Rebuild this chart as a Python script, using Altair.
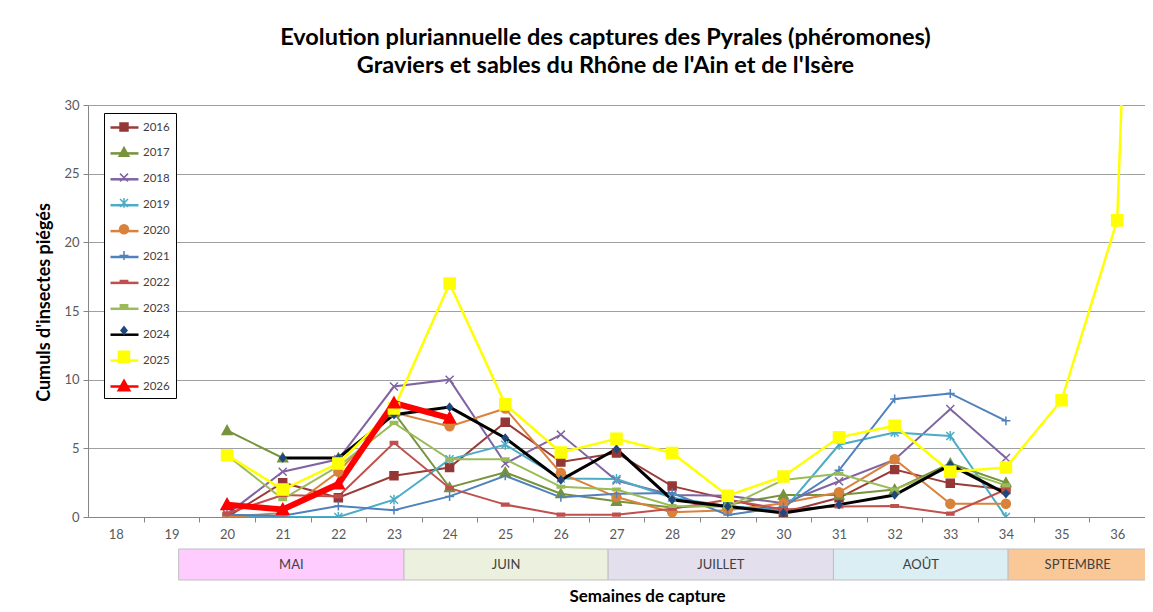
import altair as alt
import pandas as pd

# ---- data ----
weeks = list(range(20, 38))
years = ["2016", "2017", "2018", "2019", "2020", "2021", "2022", "2023", "2024", "2025", "2026"]
N = None
s2016 = [0.0, 2.5, 1.4, 3.0, 3.6, 6.9, 4.0, 4.66, 2.25, 1.3, 0.33, 1.4, 3.45, 2.45, 2.0]
s2017 = [6.3, 4.3, 4.3, 7.6, 2.15, 3.25, 1.7, 1.15, 0.7, 0.9, 1.6, 1.6, 2.0, 3.9, 2.5]
s2018 = [0.2, 3.3, 4.2, 9.5, 10.0, 3.9, 6.0, 2.66, 1.6, 1.55, 1.0, 2.6, 4.17, 7.86, 4.3]
s2019 = [0.1, 0.0, 0.0, 1.26, 4.2, 5.26, 2.8, 2.77, 1.4, 0.8, 0.5, 5.26, 6.16, 5.9, 0.0]
s2020 = [0.0, 0.3, 3.3, 7.6, 6.6, 7.9, 3.2, 1.45, 0.34, 0.5, 1.0, 1.8, 4.2, 0.97, 0.97]
s2021 = [0.17, 0.1, 0.8, 0.5, 1.5, 3.0, 1.43, 1.7, 1.75, 0.15, 0.73, 3.4, 8.6, 9.0, 7.0]
s2022 = [0.25, 1.6, 1.5, 5.4, 2.1, 0.9, 0.17, 0.17, 0.6, 1.26, 0.55, 0.77, 0.8, 0.24, 2.0]
s2023 = [4.5, 1.3, 3.7, 6.85, 4.2, 4.2, 2.2, 2.0, 0.8, 0.75, 2.7, 3.15, 2.0, 3.64, 2.3]
s2024 = [N, 4.3, 4.3, 7.45, 8.0, 5.75, 2.7, 4.95, 1.26, 0.77, 0.3, 0.9, 1.6, 3.8, 1.7]
s2025 = [4.5, 2.0, 3.9, 7.9, 17.0, 8.2, 4.7, 5.7, 4.66, 1.55, 2.95, 5.8, 6.65, 3.3, 3.6, 8.5, 21.6, 130]
s2026 = [0.9, 0.55, 2.4, 8.3, 7.2]
series = [s2016, s2017, s2018, s2019, s2020, s2021, s2022, s2023, s2024, s2025, s2026]

week_labels = list(range(18, 37))
y_ticks = [0, 5, 10, 15, 20, 25, 30]

months = ["MAI", "JUIN", "JUILLET", "AOÛT", "SPTEMBRE"]
month_start = [19.13, 23.18, 26.85, 30.9, 34.04]
month_end = [23.18, 26.85, 30.9, 34.04, 36.54]
month_colors = ["#FFCCFF", "#EBF1DE", "#E4DFEC", "#DAEEF3", "#FAC896"]

# ---- styles ----
line_colors = ["#9B3B38", "#77933C", "#8064A2", "#4BACC6", "#D9823B", "#4F81BD",
               "#C0504D", "#9BBB59", "#000000", "#FFFF00", "#FF0000"]
marker_colors = ["#953735", "#77933C", "#8064A2", "#4BACC6", "#D9823B", "#4F81BD",
                 "#C0504D", "#9BBB59", "#1F497D", "#FFFF00", "#FF0000"]
line_widths = [2, 2, 2, 2, 2, 2, 2, 2, 3, 2.5, 6]
# marker outlines in units of 7 px (symbol size 196)
marker_paths = [
    "M-0.57,-0.57H0.57V0.57H-0.57Z",
    "M0,-0.7L0.7,0.56H-0.7Z",
    "M-0.57,-0.57L0.57,0.57M-0.57,0.57L0.57,-0.57",
    "M-0.57,-0.57L0.57,0.57M-0.57,0.57L0.57,-0.57M0,-0.7V0.7",
    "M-0.64,0A0.64,0.64,0,1,0,0.64,0A0.64,0.64,0,1,0,-0.64,0Z",
    "M-0.64,0H0.64M0,-0.64V0.64",
    "M-0.52,-0.19H0.52V0.19H-0.52Z",
    "M-0.52,-0.19H0.52V0.19H-0.52Z",
    "M0,-0.52L0.43,0L0,0.52L-0.43,0Z",
    "M-0.79,-0.79H0.79V0.79H-0.79Z",
    "M0,-0.86L0.86,0.69H-0.86Z",
]
marker_keys = ["m" + y for y in years]
width_of = dict(zip(years, line_widths))

rows = []
for yr, vals in zip(years, series):
    for w, v in zip(weeks, vals):
        if v is not None:
            rows.append({"week": w, "value": v, "year": yr, "yr": "m" + yr, "lw": width_of[yr]})
df = pd.DataFrame(rows)

mdf = pd.DataFrame({"month": months, "start": month_start, "end": month_end, "color": month_colors})
mdf["mid"] = (mdf["start"] + mdf["end"]) / 2
mdf["lo"] = 0.0
mdf["hi"] = 1.0
mdf["cy"] = 0.5

PLOT_W, PLOT_H = 1057, 412
step = PLOT_W / 19
FONT = "Lato"

x_axis = alt.Axis(values=week_labels, format="d", grid=False,
                  tickOffset=step / 2, labelOffset=-step / 2, labelFlush=False,
                  tickSize=5, tickColor="#868686", domainColor="#868686",
                  labelColor="#595959", labelFontSize=13, labelFont=FONT, labelPadding=6,
                  title="Semaines de capture", titleFont=FONT, titleFontSize=17,
                  titleFontWeight="bold", titleColor="#000000",
                  titleX=559, titleY=79, titleAlign="center", titleBaseline="middle")
x_scale = alt.Scale(domain=[17.5, 36.5], nice=False, zero=False)
x_enc = alt.X("week:Q", scale=x_scale, axis=x_axis)
y_enc = alt.Y("value:Q",
              scale=alt.Scale(domain=[0, 30], nice=False),
              axis=alt.Axis(values=y_ticks, gridColor="#A0A0A0", gridWidth=1.2,
                            tickSize=5, tickColor="#868686", domainColor="#868686",
                            labelColor="#595959", labelFontSize=13, labelFont=FONT, labelPadding=4,
                            title="Cumuls d'insectes piégés", titleFont=FONT, titleFontSize=18,
                            titleFontWeight="bold", titleColor="#000000", titlePadding=10,
                            titleY=197))

common_leg = dict(title=None, orient="none", legendX=16, legendY=8, symbolSize=196,
                  labelFont=FONT, labelFontSize=11.5, padding=6,
                  symbolOffset=6, labelOffset=10)
line_legend = alt.Legend(symbolType="M-2,0H2", symbolStrokeWidth=2.5, labelColor="#404040",
                         strokeColor="#000000", fillColor="#FFFFFF", rowPadding=11.9, **common_leg)
# marker legend drawn over the line legend (no labels of its own)
point_legend = alt.Legend(symbolStrokeWidth=1.5, labelExpr="''", rowPadding=10.3, **common_leg)

lines = alt.Chart(df).mark_line(clip=True).encode(
    x=x_enc, y=y_enc,
    color=alt.Color("year:N", scale=alt.Scale(domain=years, range=line_colors), legend=line_legend),
    strokeWidth=alt.StrokeWidth("lw:Q", scale=None, legend=None),
)
points = alt.Chart(df).mark_point(clip=True, filled=True, opacity=1, size=196, strokeWidth=1.5).encode(
    x=x_enc, y=y_enc,
    shape=alt.Shape("yr:N", scale=alt.Scale(domain=marker_keys, range=marker_paths), legend=point_legend),
    fill=alt.Fill("yr:N", scale=alt.Scale(domain=marker_keys, range=marker_colors), legend=point_legend),
    stroke=alt.Stroke("yr:N", scale=alt.Scale(domain=marker_keys, range=marker_colors), legend=point_legend),
)

rects = alt.Chart(mdf).mark_rect(stroke="#BFBFBF", strokeWidth=1).encode(
    x=alt.X("start:Q", scale=x_scale, axis=x_axis), x2="end:Q",
    y=alt.Y("lo:Q", scale=alt.Scale(domain=[0, 1], range=[444, 475]), axis=None), y2="hi:Q",
    color=alt.Color("color:N", scale=None),
)
texts = alt.Chart(mdf).mark_text(font=FONT, fontSize=13, color="#404040").encode(
    x=alt.X("mid:Q", scale=x_scale, axis=x_axis),
    y=alt.Y("cy:Q", axis=None),
    text="month:N",
)

main = alt.layer(lines, points)
strip = alt.layer(rects, texts)

chart = alt.layer(main, strip).resolve_scale(y="independent").properties(
    width=PLOT_W, height=PLOT_H,
    title=alt.TitleParams(
        text=["Evolution pluriannuelle des captures des Pyrales (phéromones)",
              "Graviers et sables du Rhône de l'Ain et de l'Isère"],
        font=FONT, fontSize=23.5, fontWeight="bold", color="#000000", lineHeight=28,
        anchor="middle", dx=-11, offset=22),
    padding={"left": 80, "top": 97, "right": 0, "bottom": 90},
    autosize=alt.AutoSizeParams(type="none"),
    background="#FFFFFF",
).configure_view(stroke=None)

chart.save("out.html", embed_options={"renderer": "svg", "actions": False})
